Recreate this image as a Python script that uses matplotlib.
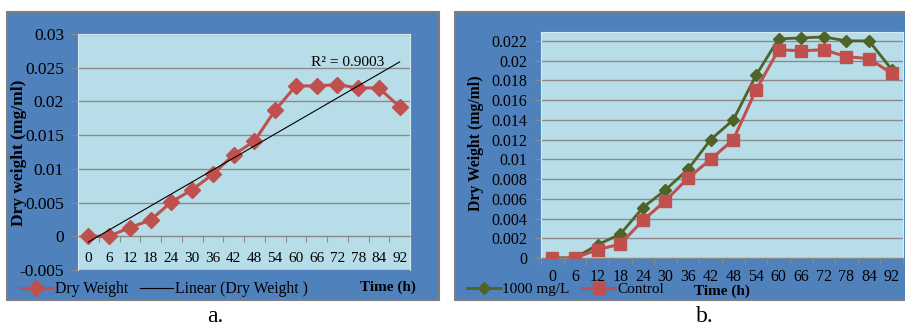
import numpy as np
import matplotlib.pyplot as plt
from matplotlib.patches import Rectangle

plt.rcParams["font.family"] = ["Liberation Serif", "DejaVu Serif"]
plt.rcParams["font.size"] = 11

# data
hours = ["0", "6", "12", "18", "24", "30", "36", "42", "48", "54", "60", "66", "72", "78", "84", "92"]
dry_weight = [0.0, 0.0, 0.0013, 0.0024, 0.0051, 0.0069, 0.0092, 0.0121, 0.0141, 0.0187,
              0.0223, 0.0223, 0.0225, 0.0220, 0.0220, 0.0192]
dose_1000 = [0.0, 0.0, 0.00135, 0.0024, 0.0051, 0.0069, 0.0090, 0.0120, 0.0140, 0.0185,
             0.0222, 0.0223, 0.0224, 0.0220, 0.0220, 0.0191]
control = [0.0, 0.0, 0.00085, 0.0014, 0.0038, 0.0058, 0.0081, 0.0100, 0.0120, 0.0170,
           0.0211, 0.0210, 0.0211, 0.0204, 0.0202, 0.0187]
yticks_a = [-0.005, 0, 0.005, 0.01, 0.015, 0.02, 0.025, 0.03]
yticks_b = [0, 0.002, 0.004, 0.006, 0.008, 0.01, 0.012, 0.014, 0.016, 0.018, 0.02, 0.022]
r2_text = "R² = 0.9003"

border_blue = "#4F81BD"
plot_blue = "#B7DEE8"
grid_gray = "#8A8A8A"
red = "#C0504D"
green = "#4F6228"

W, H = 905, 326
fig = plt.figure(figsize=(W / 100, H / 100), dpi=100)


def px_box(x0, y0, x1, y1):
    return [x0 / W, 1 - y1 / H, (x1 - x0) / W, (y1 - y0) / H]


def frame(x0, y0, x1, y1):
    b = px_box(x0, y0, x1, y1)
    fig.add_artist(Rectangle((b[0], b[1]), b[2], b[3], transform=fig.transFigure,
                             facecolor=border_blue, edgecolor="#7F7F7F", lw=1.5, zorder=-1))


def style_axes(ax, yticks, xpad, ypad, fs):
    x = np.arange(len(hours))
    ax.set_facecolor(plot_blue)
    ax.set_xlim(-0.5, len(hours) - 0.5)
    ax.set_xticks(np.arange(-0.5, len(hours)))
    ax.set_xticklabels([])
    ax.set_xticks(x, minor=True)
    ax.set_xticklabels(hours, minor=True, fontsize=fs)
    ax.tick_params(axis="x", which="major", length=4, color=grid_gray, direction="out")
    ax.tick_params(axis="x", which="minor", length=0, pad=xpad)
    ax.set_yticks(yticks)
    ax.set_yticklabels([f"{v:g}" for v in yticks], fontsize=fs)
    ax.tick_params(axis="y", length=5, color=grid_gray, pad=ypad)
    ax.yaxis.grid(True, color=grid_gray, lw=1)
    ax.set_axisbelow(True)
    for s in ["top", "left", "right"]:
        ax.spines[s].set_color("#D6ECF2")
    ax.spines["bottom"].set_color(grid_gray)
    return x


# ---- panel a ----
frame(7, 12, 439, 300)
ax1 = fig.add_axes(px_box(78, 34, 410, 270))
ax1.set_ylim(-0.005, 0.03)
x = style_axes(ax1, yticks_a, 11, 5, 12.5)
ax1.spines["bottom"].set_position(("data", 0))

coef = np.polyfit(x + 1, dry_weight, 1)
trend = np.polyval(coef, x + 1)
l_dw, = ax1.plot(x, dry_weight, color=red, lw=2.2, marker="D", ms=8, zorder=3)
l_tr, = ax1.plot(x, trend, color="black", lw=0.8, zorder=4)
ax1.text(10.75, 0.0258, r2_text, va="center", ha="left", fontsize=11)

ax1.legend([l_dw, l_tr], ["Dry Weight", "Linear (Dry Weight )"], loc="center left",
           bbox_to_anchor=(20 / W, 1 - 289 / H), bbox_transform=fig.transFigure,
           ncol=2, frameon=False, borderpad=0, borderaxespad=0, handlelength=2.1,
           handletextpad=0.1, columnspacing=0.8, fontsize=11.3)
fig.text(19 / W, 1 - 153 / H, "Dry weight (mg/ml)", rotation=90, ha="center", va="center",
         fontweight="bold", fontsize=12.5)
fig.text(388 / W, 1 - 287 / H, "Time (h)", ha="center", va="center", fontweight="bold", fontsize=11)
fig.text(215 / W, 1 - 317 / H, "a.", ha="center", va="center", fontsize=17)

# ---- panel b ----
frame(455, 12, 907, 300)
ax2 = fig.add_axes(px_box(541, 32, 903, 258))
ax2.set_ylim(0, 0.0229)
x = style_axes(ax2, yticks_b, 8, 5, 11.5)

l_hi, = ax2.plot(x, dose_1000, color=green, lw=2, marker="D", ms=6.5, zorder=3)
l_ct, = ax2.plot(x, control, color=red, lw=2.2, marker="s", ms=9, zorder=4)

ax2.legend([l_hi, l_ct], ["1000 mg/L", "Control"], loc="center left",
           bbox_to_anchor=(467 / W, 1 - 289 / H), bbox_transform=fig.transFigure,
           ncol=2, frameon=False, borderpad=0, borderaxespad=0, handlelength=2.2,
           handletextpad=0.1, columnspacing=0.8, fontsize=11)
fig.text(476 / W, 1 - 143 / H, "Dry Weight (mg/ml)", rotation=90, ha="center", va="center",
         fontweight="bold", fontsize=11.3)
fig.text(722 / W, 1 - 291 / H, "Time (h)", ha="center", va="center", fontweight="bold", fontsize=11)
fig.text(705 / W, 1 - 317 / H, "b.", ha="center", va="center", fontsize=17)

fig.savefig("out.png", dpi=100, facecolor="white")
